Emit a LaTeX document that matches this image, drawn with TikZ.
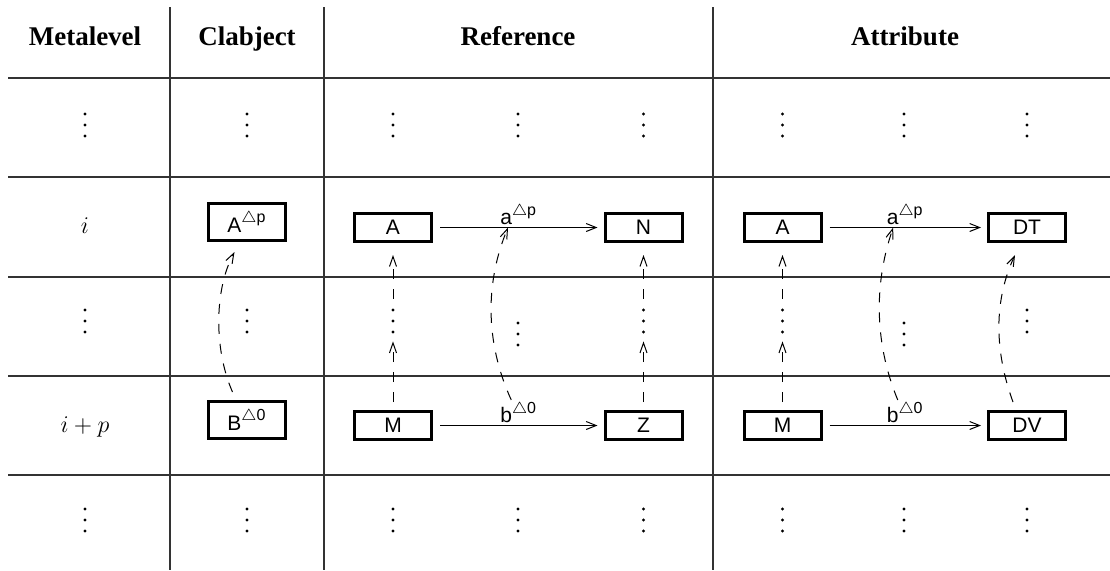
\documentclass[tikz,border=0pt]{standalone}
\usepackage{amsmath}
\usepackage[no-math]{fontspec}
\setmainfont{Liberation Serif}
\setsansfont{Liberation Sans}
\usetikzlibrary{arrows.meta,calc}
\newcommand\trisup[1]{\raisebox{4.6pt}{\fontsize{8}{9}\selectfont$\triangle$#1}}
\begin{document}
\begin{tikzpicture}[x=0.5pt,y=-0.5pt,
  grid/.style={line width=0.6pt, black!80},
  hdr/.style={font=\fontsize{13.5}{16}\selectfont\bfseries, anchor=base, inner sep=0},
  lvl/.style={font=\fontsize{13}{15}\selectfont, anchor=base, inner sep=0},
  box/.style={draw, line width=1.5pt, minimum width=38.5pt, minimum height=14pt, inner sep=1pt, font=\fontsize{10.5}{12}\sffamily},
  cbox/.style={box, minimum height=18.5pt},
  vd/.style={minimum width=4pt, minimum height=16pt, inner sep=0},
  rel/.style={line width=0.5pt, -{Straight Barb[length=5pt,width=4pt]}, shorten <=3.5pt, shorten >=3pt},
  lab/.style={font=\fontsize{10.5}{12}\sffamily, above, inner sep=1pt},
  dsh/.style={line width=0.5pt, dash pattern=on 5pt off 5pt, -{Straight Barb[length=5pt,width=3.5pt]}},
]
\useasboundingbox (0,0) rectangle (1110,570);

% table rules
\foreach \y in {78,177,277,376,475} \draw[grid] (8,\y) -- (1110,\y);
\foreach \x in {170,324,713} \draw[grid] (\x,7) -- (\x,570);

% headers
\node[hdr] (hM) at (85,45) {Metalevel};
\node[hdr] (hC) at (247,45) {Clabject};
\node[hdr] (hR) at (518,45) {Reference};
\node[hdr] (hA) at (905,45) {Attribute};

% metalevels
\node[lvl] (li) at (85,233) {$i$};
\node[lvl] (lip) at (85,432) {$i+p$};

% dot nodes
\node[vd] (d1a) at (85,125) {};
\node[vd] (d1b) at (247,125) {};
\node[vd] (d1c) at (393,125) {};
\node[vd] (d1d) at (518,125) {};
\node[vd] (d1e) at (643.5,125) {};
\node[vd] (d1f) at (782.5,125) {};
\node[vd] (d1g) at (904,125) {};
\node[vd] (d1h) at (1027,125) {};
\node[vd] (d3a) at (85,321) {};
\node[vd] (d3b) at (247,321) {};
\node[vd] (rl) at (393,321) {};
\node[vd] (rm) at (518,334) {};
\node[vd] (rr) at (643.5,321) {};
\node[vd] (al) at (782.5,321) {};
\node[vd] (am) at (904,334) {};
\node[vd] (ar) at (1027,321) {};
\node[vd] (d5a) at (85,520) {};
\node[vd] (d5b) at (247,520) {};
\node[vd] (d5c) at (393,520) {};
\node[vd] (d5d) at (518,520) {};
\node[vd] (d5e) at (643.5,520) {};
\node[vd] (d5f) at (782.5,520) {};
\node[vd] (d5g) at (904,520) {};
\node[vd] (d5h) at (1027,520) {};
\foreach \n in {d1a,d1b,d1c,d1d,d1e,d1f,d1g,d1h,d3a,d3b,rl,rm,rr,al,am,ar,d5a,d5b,d5c,d5d,d5e,d5f,d5g,d5h}
  \foreach \k in {-1,0,1} \fill ($(\n)+(0,\k*11)$) circle[radius=0.8pt];

% clabject
\node[cbox] (cA) at (246.5,222) {A\trisup{p}};
\node[cbox] (cB) at (246.5,420) {B\trisup{0}};
\draw[dsh] ([xshift=-7pt,yshift=4pt]cB.north) .. controls (214,350) and (214,290) .. ([xshift=-6pt,yshift=-5pt]cA.south);

% reference
\node[box] (rA) at (393,227.5) {A};
\node[box] (rN) at (643.5,227.5) {N};
\node[box] (rM) at (393,425.5) {M};
\node[box] (rZ) at (643.5,425.5) {Z};
\draw[rel] (rA) -- (rN) node[lab, midway] (la1) {a\trisup{p}} coordinate[pos=0.44] (ta1);
\draw[rel] (rM) -- (rZ) node[lab, midway] (lb1) {b\trisup{0}};
\draw[dsh, shorten <=4pt, shorten >=2pt] (rM) -- (rl);
\draw[dsh, shorten <=3pt, shorten >=6pt] (rl) -- (rA);
\draw[dsh, shorten <=4pt, shorten >=2pt] (rZ) -- (rr);
\draw[dsh, shorten <=3pt, shorten >=6pt] (rr) -- (rN);
\draw[dsh] ([xshift=-3.5pt]lb1.north) .. controls (484,340) and (486,280) .. (ta1);

% attribute
\node[box] (aA) at (782.5,227.5) {A};
\node[box] (aT) at (1027,227.5) {DT};
\node[box] (aM) at (782.5,425.5) {M};
\node[box] (aV) at (1027,425.5) {DV};
\draw[rel] (aA) -- (aT) node[lab, midway] (la2) {a\trisup{p}} coordinate[pos=0.43] (ta2);
\draw[rel] (aM) -- (aV) node[lab, midway] (lb2) {b\trisup{0}};
\draw[dsh, shorten <=4pt, shorten >=2pt] (aM) -- (al);
\draw[dsh, shorten <=3pt, shorten >=6pt] (al) -- (aA);
\draw[dsh] ([xshift=-3.5pt]lb2.north) .. controls (873,340) and (875,280) .. (ta2);
\draw[dsh] ([xshift=-7pt,yshift=4pt]aV.north) .. controls (994,350) and (994,300) .. ([xshift=-6pt,yshift=-6pt]aT.south);
\end{tikzpicture}
\end{document}
